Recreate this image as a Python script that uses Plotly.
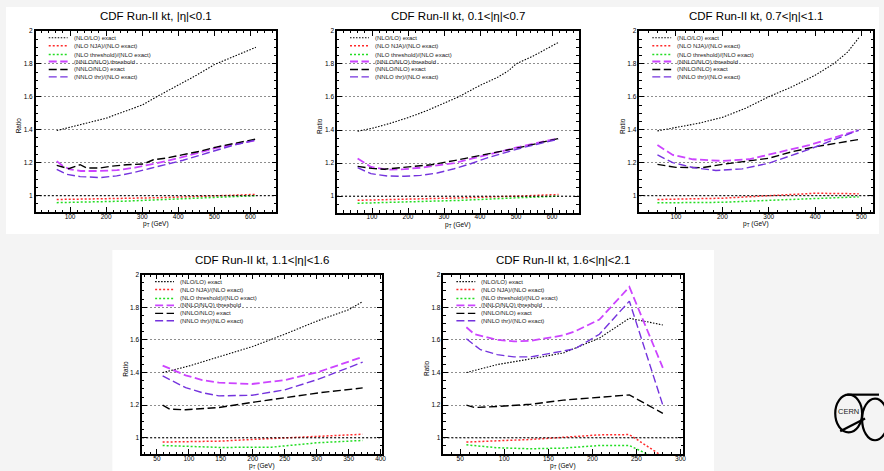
import plotly.graph_objects as go

W, H = 884, 471

TITLES = [
    "CDF Run-II kt, |η|<0.1",
    "CDF Run-II kt, 0.1<|η|<0.7",
    "CDF Run-II kt, 0.7<|η|<1.1",
    "CDF Run-II kt, 1.1<|η|<1.6",
    "CDF Run-II kt, 1.6<|η|<2.1",
]
SERIES_NAMES = [
    "(NLO/LO) exact",
    "(NLO NJA)/(NLO exact)",
    "(NLO threshold)/(NLO exact)",
    "(NNLO/NLO) threshold",
    "(NNLO/NLO) exact",
    "(NNLO thr)/(NLO exact)",
]
X_RANGES = [[5, 672], [3, 674], [21, 525], [27, 402], [31, 303]]
X_MAJOR = [100, 100, 100, 50, 50]
X_MINOR = [20, 20, 20, 10, 10]
Y_RANGE = [0.9, 2.0]

# ---------------- Panel 1 : |eta|<0.1 ----------------
P1_NLOLO_X = [63, 100, 150, 200, 250, 300, 340, 400, 450, 500, 550, 615]
P1_NLOLO_Y = [1.395, 1.415, 1.44, 1.47, 1.51, 1.55, 1.60, 1.67, 1.73, 1.795, 1.84, 1.90]
P1_NJA_X = [63, 150, 250, 350, 450, 550, 615]
P1_NJA_Y = [0.977, 0.979, 0.983, 0.988, 0.995, 1.003, 1.008]
P1_THR_X = [63, 150, 250, 350, 450, 550, 615]
P1_THR_Y = [0.958, 0.961, 0.967, 0.976, 0.985, 0.994, 1.0]
P1_NNLOTHR_X = [63, 80, 100, 130, 180, 230, 280, 303, 367, 413, 459, 505, 551, 615]
P1_NNLOTHR_Y = [1.21, 1.18, 1.16, 1.15, 1.15, 1.155, 1.17, 1.18, 1.21, 1.235, 1.263, 1.29, 1.31, 1.335]
P1_NNLOEX_X = [63, 96, 128, 146, 183, 211, 257, 303, 331, 367, 413, 459, 505, 551, 615]
P1_NNLOEX_Y = [1.184, 1.164, 1.188, 1.168, 1.168, 1.178, 1.188, 1.192, 1.218, 1.228, 1.249, 1.269, 1.295, 1.315, 1.343]
P1_THRNLO_X = [63, 90, 128, 183, 229, 275, 321, 367, 413, 459, 505, 551, 615]
P1_THRNLO_Y = [1.16, 1.13, 1.116, 1.11, 1.12, 1.14, 1.165, 1.188, 1.215, 1.245, 1.275, 1.305, 1.338]

# ---------------- Panel 2 : 0.1<|eta|<0.7 ----------------
P2_NLOLO_X = [60, 100, 150, 200, 250, 300, 340, 400, 450, 480, 500, 550, 618]
P2_NLOLO_Y = [1.393, 1.41, 1.44, 1.475, 1.515, 1.56, 1.60, 1.67, 1.72, 1.76, 1.80, 1.85, 1.93]
P2_NJA_X = [60, 200, 350, 500, 618]
P2_NJA_Y = [0.975, 0.981, 0.99, 1.0, 1.01]
P2_THR_X = [60, 200, 350, 500, 618]
P2_THR_Y = [0.957, 0.964, 0.975, 0.99, 1.0]
P2_NNLOTHR_X = [60, 97, 143, 190, 235, 281, 328, 374, 420, 512, 618]
P2_NNLOTHR_Y = [1.228, 1.177, 1.16, 1.163, 1.172, 1.185, 1.2, 1.225, 1.25, 1.3, 1.35]
P2_NNLOEX_X = [60, 100, 134, 190, 264, 328, 420, 512, 618]
P2_NNLOEX_Y = [1.18, 1.168, 1.163, 1.173, 1.19, 1.215, 1.255, 1.295, 1.349]
P2_THRNLO_X = [60, 97, 143, 190, 235, 281, 328, 374, 420, 512, 618]
P2_THRNLO_Y = [1.172, 1.136, 1.122, 1.12, 1.126, 1.14, 1.166, 1.196, 1.232, 1.29, 1.345]

# ---------------- Panel 3 : 0.7<|eta|<1.1 ----------------
P3_NLOLO_X = [60, 100, 150, 200, 250, 300, 350, 400, 440, 470, 495]
P3_NLOLO_Y = [1.393, 1.415, 1.44, 1.475, 1.53, 1.60, 1.66, 1.73, 1.80, 1.87, 1.96]
P3_NJA_X = [60, 200, 300, 400, 494]
P3_NJA_Y = [0.977, 0.985, 1.0, 1.015, 1.012]
P3_THR_X = [60, 200, 300, 400, 494]
P3_THR_Y = [0.957, 0.96, 0.972, 0.985, 0.993]
P3_NNLOTHR_X = [60, 93, 136, 200, 258, 315, 387, 494]
P3_NNLOTHR_Y = [1.307, 1.247, 1.221, 1.211, 1.221, 1.257, 1.307, 1.397]
P3_NNLOEX_X = [60, 100, 157, 200, 300, 351, 401, 494]
P3_NNLOEX_Y = [1.19, 1.172, 1.17, 1.19, 1.227, 1.267, 1.297, 1.341]
P3_THRNLO_X = [60, 93, 136, 186, 243, 300, 387, 494]
P3_THRNLO_Y = [1.247, 1.201, 1.171, 1.153, 1.163, 1.197, 1.281, 1.397]

# ---------------- Panel 4 : 1.1<|eta|<1.6 ----------------
P4_NLOLO_X = [59, 100, 150, 200, 250, 300, 350, 372]
P4_NLOLO_Y = [1.40, 1.44, 1.50, 1.56, 1.635, 1.715, 1.785, 1.835]
P4_NJA_X = [59, 150, 199, 300, 372]
P4_NJA_Y = [0.974, 0.98, 0.99, 1.01, 1.022]
P4_THR_X = [59, 150, 230, 302, 372]
P4_THR_Y = [0.953, 0.941, 0.943, 0.97, 0.984]
P4_NNLOTHR_X = [59, 95, 121, 147, 199, 250, 302, 372]
P4_NNLOTHR_Y = [1.443, 1.383, 1.354, 1.338, 1.33, 1.354, 1.403, 1.496]
P4_NNLOEX_X = [59, 70, 95, 147, 199, 250, 302, 372]
P4_NNLOEX_Y = [1.2, 1.176, 1.172, 1.186, 1.217, 1.247, 1.275, 1.306]
P4_THRNLO_X = [59, 95, 121, 147, 199, 250, 302, 372]
P4_THRNLO_Y = [1.379, 1.308, 1.277, 1.257, 1.261, 1.294, 1.358, 1.464]

# ---------------- Panel 5 : 1.6<|eta|<2.1 ----------------
P5_NLOLO_X = [57, 92, 130, 167, 208, 242, 280]
P5_NLOLO_Y = [1.40, 1.449, 1.484, 1.52, 1.611, 1.733, 1.692]
P5_NJA_X = [57, 130, 208, 242, 280]
P5_NJA_Y = [0.974, 0.99, 1.018, 1.02, 0.886]
P5_THR_X = [57, 92, 130, 167, 208, 242, 280]
P5_THR_Y = [0.957, 0.939, 0.933, 0.937, 0.953, 0.953, 0.855]
P5_NNLOTHR_X = [57, 66, 92, 111, 130, 167, 180, 208, 242, 280]
P5_NNLOTHR_Y = [1.678, 1.636, 1.601, 1.591, 1.595, 1.628, 1.652, 1.725, 1.925, 1.429]
P5_NNLOEX_X = [57, 66, 92, 130, 167, 208, 242, 280]
P5_NNLOEX_Y = [1.2, 1.186, 1.192, 1.206, 1.231, 1.251, 1.263, 1.15]
P5_THRNLO_X = [57, 73, 92, 111, 130, 167, 180, 208, 242, 280]
P5_THRNLO_Y = [1.607, 1.54, 1.51, 1.496, 1.496, 1.53, 1.545, 1.635, 1.838, 1.2]

PANEL_DATA = [
    [(P1_NLOLO_X, P1_NLOLO_Y), (P1_NJA_X, P1_NJA_Y), (P1_THR_X, P1_THR_Y),
     (P1_NNLOTHR_X, P1_NNLOTHR_Y), (P1_NNLOEX_X, P1_NNLOEX_Y), (P1_THRNLO_X, P1_THRNLO_Y)],
    [(P2_NLOLO_X, P2_NLOLO_Y), (P2_NJA_X, P2_NJA_Y), (P2_THR_X, P2_THR_Y),
     (P2_NNLOTHR_X, P2_NNLOTHR_Y), (P2_NNLOEX_X, P2_NNLOEX_Y), (P2_THRNLO_X, P2_THRNLO_Y)],
    [(P3_NLOLO_X, P3_NLOLO_Y), (P3_NJA_X, P3_NJA_Y), (P3_THR_X, P3_THR_Y),
     (P3_NNLOTHR_X, P3_NNLOTHR_Y), (P3_NNLOEX_X, P3_NNLOEX_Y), (P3_THRNLO_X, P3_THRNLO_Y)],
    [(P4_NLOLO_X, P4_NLOLO_Y), (P4_NJA_X, P4_NJA_Y), (P4_THR_X, P4_THR_Y),
     (P4_NNLOTHR_X, P4_NNLOTHR_Y), (P4_NNLOEX_X, P4_NNLOEX_Y), (P4_THRNLO_X, P4_THRNLO_Y)],
    [(P5_NLOLO_X, P5_NLOLO_Y), (P5_NJA_X, P5_NJA_Y), (P5_THR_X, P5_THR_Y),
     (P5_NNLOTHR_X, P5_NNLOTHR_Y), (P5_NNLOEX_X, P5_NNLOEX_Y), (P5_THRNLO_X, P5_THRNLO_Y)],
]

# ---------------- styling / layout ----------------
FONT = "Liberation Sans, Arial, Helvetica, sans-serif"
STYLES = [
    dict(color="black", dash="1.5px,1.5px", width=1.1),
    dict(color="#ff2a2a", dash="2px,2px", width=1.5),
    dict(color="#22dd22", dash="2px,2px", width=1.5),
    dict(color="#cc44ff", dash="8px,3.5px", width=1.8),
    dict(color="black", dash="8px,3.5px", width=1.4),
    dict(color="#7433dd", dash="8px,3.5px", width=1.4),
]
# frames in pixels: (left, top, right, bottom)
FRAMES = [(36, 27, 278, 210), (339, 27, 582, 210.5), (643, 27, 878, 210),
          (143, 273, 384, 454), (446, 273, 687, 454)]
LEGEND_ROWS = [7, 15, 24, 31, 39, 46.5]


def px(x):
    return x / W


def py(y):
    return 1 - y / H


fig = go.Figure()
shapes = []
annotations = []

# slide-like white boxes on grey background
shapes.append(dict(type="rect", xref="paper", yref="paper", x0=px(6), x1=1.0,
                   y0=py(232), y1=py(3), fillcolor="white", line=dict(width=0), layer="below"))
shapes.append(dict(type="rect", xref="paper", yref="paper", x0=px(113), x1=px(718),
                   y0=0, y1=py(248), fillcolor="white", line=dict(width=0), layer="below"))

layout_axes = {}
for i, (frame, data) in enumerate(zip(FRAMES, PANEL_DATA)):
    n = i + 1
    sfx = "" if n == 1 else str(n)
    l, t, r, b = frame
    for k, (xs, ys) in enumerate(data):
        st = STYLES[k]
        fig.add_trace(go.Scatter(
            x=xs, y=ys, mode="lines", name=SERIES_NAMES[k], showlegend=False,
            line=dict(color=st["color"], dash=st["dash"], width=st["width"]),
            xaxis="x" + sfx, yaxis="y" + sfx, hoverinfo="skip"))

    tickfont = dict(family=FONT, size=6.5, color="black")
    layout_axes["xaxis" + sfx] = dict(
        domain=[px(l), px(r)], range=X_RANGES[i], anchor="y" + sfx,
        showline=True, linecolor="black", linewidth=1.5, mirror="allticks",
        ticks="inside", ticklen=5, tickwidth=1, tickcolor="black",
        tick0=0, dtick=X_MAJOR[i], showgrid=False, zeroline=False,
        ticklabelstandoff=-3,
        minor=dict(ticks="inside", ticklen=2.5, tickwidth=1, tickcolor="black",
                   dtick=X_MINOR[i], tick0=0, showgrid=False),
        tickfont=tickfont, fixedrange=True)
    layout_axes["yaxis" + sfx] = dict(
        domain=[py(b), py(t)], range=Y_RANGE, anchor="x" + sfx,
        showline=True, linecolor="black", linewidth=1.5, mirror="allticks",
        ticks="inside", ticklen=5, tickwidth=1, tickcolor="black",
        tick0=0, dtick=0.2, showgrid=True, gridcolor="#8e8e8e", gridwidth=1,
        griddash="2px,2px", zeroline=False,
        minor=dict(ticks="inside", ticklen=2.5, tickwidth=1, tickcolor="black",
                   dtick=0.05, tick0=0, showgrid=False),
        tickfont=tickfont, fixedrange=True)

    # reference line at ratio 1
    shapes.append(dict(type="line", xref="paper", yref="y" + sfx,
                       x0=px(l), x1=px(r), y0=1, y1=1,
                       line=dict(color="black", width=1, dash="2px,2px")))

    # title
    annotations.append(dict(text=TITLES[i], xref="paper", yref="paper",
                            x=px((l + r) / 2), y=py(t - 15), showarrow=False,
                            xanchor="center", yanchor="middle",
                            font=dict(family=FONT, size=11.5, color="black")))
    # axis titles
    annotations.append(dict(text="Ratio", xref="paper", yref="paper",
                            x=px(l - 17), y=py((t + b) / 2 + 4), showarrow=False,
                            textangle=-90, xanchor="center", yanchor="middle",
                            font=dict(family=FONT, size=6.5, color="black")))
    annotations.append(dict(text="p<sub>T</sub> (GeV)", xref="paper", yref="paper",
                            x=px((l + r) / 2), y=py(b + 12), showarrow=False,
                            xanchor="center", yanchor="middle",
                            font=dict(family=FONT, size=6.5, color="black")))
    # legend (drawn inside the frame, top-left)
    for k, off in enumerate(LEGEND_ROWS):
        yy = py(t + off)
        st = STYLES[k]
        shapes.append(dict(type="line", xref="paper", yref="paper",
                           x0=px(l + 13), x1=px(l + 32), y0=yy, y1=yy,
                           line=dict(color=st["color"], width=st["width"], dash=st["dash"])))
        annotations.append(dict(text=SERIES_NAMES[k], xref="paper", yref="paper",
                                x=px(l + 36), y=yy, showarrow=False,
                                xanchor="left", yanchor="middle",
                                font=dict(family=FONT, size=6, color="#222")))

# CERN logo (approximate)
logo_line = dict(color="black", width=2.2)
shapes.append(dict(type="circle", xref="paper", yref="paper",
                   x0=px(840), x1=px(867), y0=py(432), y1=py(394), line=logo_line))
shapes.append(dict(type="circle", xref="paper", yref="paper",
                   x0=px(867), x1=px(893), y0=py(440), y1=py(398), line=logo_line))
shapes.append(dict(type="line", xref="paper", yref="paper",
                   x0=px(852), x1=px(884), y0=py(394), y1=py(394), line=logo_line))
shapes.append(dict(type="line", xref="paper", yref="paper",
                   x0=px(845), x1=px(870), y0=py(431), y1=py(418), line=logo_line))
annotations.append(dict(text="CERN", xref="paper", yref="paper", x=px(853), y=py(411),
                        showarrow=False, xanchor="center", yanchor="middle",
                        font=dict(family=FONT, size=7.5, color="#222")))

fig.update_layout(
    width=W, height=H, margin=dict(l=0, r=0, t=0, b=0),
    paper_bgcolor="#f4f4f4", plot_bgcolor="white",
    showlegend=False, shapes=shapes, annotations=annotations,
    font=dict(family=FONT, color="black"),
    **layout_axes,
)

fig.write_html("out.html")
